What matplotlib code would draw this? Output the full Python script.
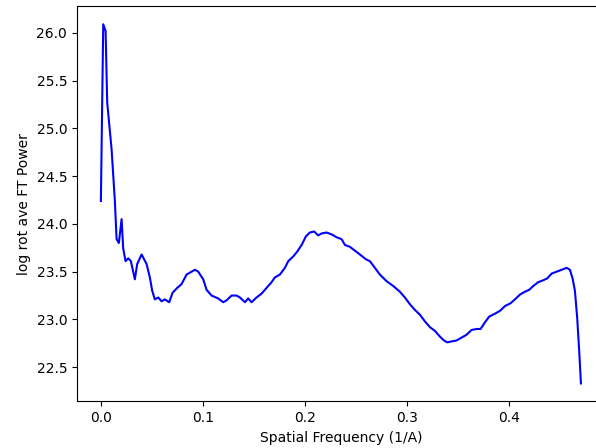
import matplotlib
matplotlib.use("Agg")
import matplotlib.pyplot as plt

freq = [0.0, 0.0023, 0.0046, 0.0062, 0.0105, 0.0137, 0.0154, 0.0176, 0.0203, 0.0219,
        0.0242, 0.0268, 0.0294, 0.0333, 0.0356, 0.0399, 0.0448, 0.048, 0.0503, 0.0529,
        0.0562, 0.0595, 0.0627, 0.067, 0.0703, 0.0748, 0.0791, 0.084, 0.0873, 0.0922,
        0.0954, 0.1003, 0.1036, 0.1085, 0.115, 0.1199, 0.1232, 0.1281, 0.1330, 0.1363,
        0.1412, 0.1444, 0.1477, 0.1526, 0.1575, 0.1624, 0.1673, 0.1706, 0.1755, 0.1804,
        0.1837, 0.1886, 0.1925, 0.1968, 0.2010, 0.2049, 0.2091, 0.2130, 0.2164, 0.2213,
        0.2262, 0.2311, 0.2360, 0.2392, 0.2441, 0.2490, 0.2539, 0.2598, 0.2637, 0.2686,
        0.2735, 0.2801, 0.2866, 0.2931, 0.2980, 0.3029, 0.3078, 0.3127, 0.3176, 0.3225,
        0.3275, 0.3324, 0.3363, 0.3395, 0.3438, 0.3487, 0.3536, 0.3585, 0.3634, 0.3683,
        0.3722, 0.3765, 0.3807, 0.3863, 0.3912, 0.3961, 0.4017, 0.4059, 0.4108, 0.4157,
        0.4199, 0.4238, 0.4287, 0.4336, 0.4376, 0.4419, 0.4468, 0.4517, 0.4566, 0.4598,
        0.4624, 0.4647, 0.4669, 0.4689, 0.4706]
power = [24.24, 26.09, 26.02, 25.27, 24.78, 24.24, 23.84, 23.80, 24.05, 23.74,
         23.61, 23.64, 23.61, 23.42, 23.58, 23.68, 23.58, 23.44, 23.30, 23.21,
         23.23, 23.19, 23.21, 23.18, 23.28, 23.33, 23.37, 23.47, 23.49, 23.52,
         23.50, 23.42, 23.31, 23.25, 23.22, 23.18, 23.20, 23.25, 23.25, 23.23,
         23.18, 23.22, 23.18, 23.23, 23.27, 23.33, 23.39, 23.44, 23.47, 23.54,
         23.61, 23.66, 23.71, 23.78, 23.87, 23.91, 23.92, 23.88, 23.90, 23.91,
         23.89, 23.86, 23.84, 23.78, 23.76, 23.72, 23.68, 23.63, 23.61, 23.54,
         23.47, 23.40, 23.35, 23.29, 23.23, 23.16, 23.10, 23.05, 22.98, 22.92,
         22.88, 22.82, 22.78, 22.76, 22.77, 22.78, 22.81, 22.84, 22.89, 22.90,
         22.90, 22.97, 23.03, 23.06, 23.09, 23.14, 23.17, 23.21, 23.26, 23.29,
         23.31, 23.35, 23.39, 23.41, 23.43, 23.48, 23.50, 23.52, 23.54, 23.52,
         23.43, 23.30, 23.02, 22.67, 22.33]

fig = plt.figure(figsize=(5.96, 4.48), dpi=100)
ax = fig.add_axes([0.129, 0.104, 0.886, 0.882])
ax.plot(freq, power, color="blue", linewidth=1.5)
ax.spines["right"].set_visible(False)
ax.set_xlabel("Spatial Frequency (1/A)")
ax.set_ylabel("log rot ave FT Power")
fig.savefig("out.png", dpi=100)
